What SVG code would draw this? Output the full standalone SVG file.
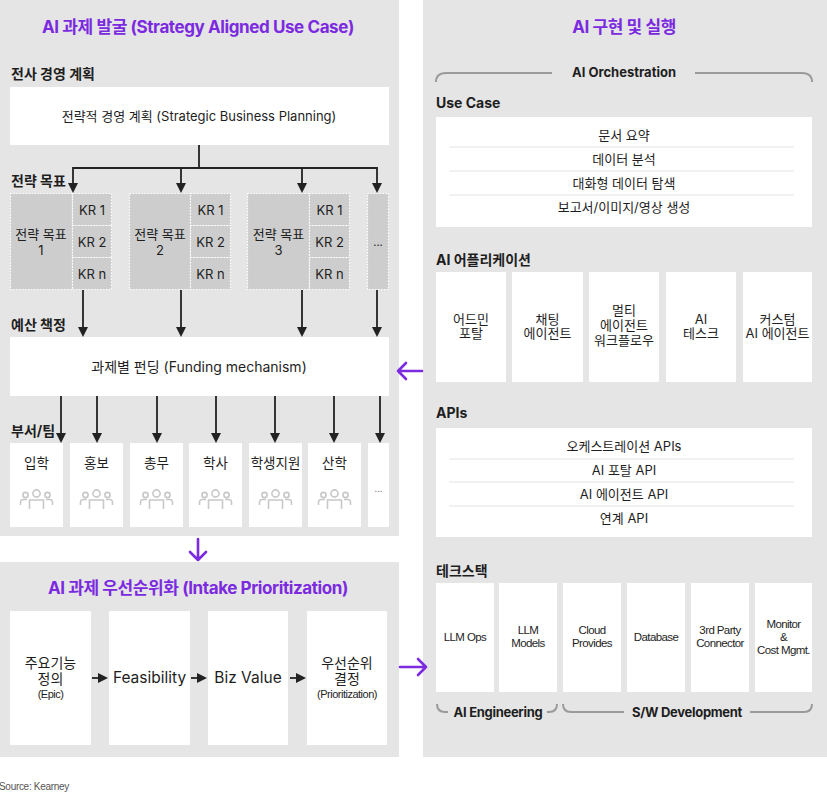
<svg xmlns="http://www.w3.org/2000/svg" xmlns:xlink="http://www.w3.org/1999/xlink" width="827" height="798" viewBox="0 0 827 798">
<style>
.panel{fill:#e5e5e5}
.box{fill:#fff}
.sg{fill:#cdcdcd;stroke:#fff;stroke-width:1.2;stroke-dasharray:1.6 1.4}
.t{font-family:Inter,"Noto Sans CJK KR",sans-serif;fill:#1e1e1e;font-size:13px}
.c{text-anchor:middle}
.h{font-weight:bold;font-size:14px}
.ttl{font-weight:bold;font-size:17px;fill:#7b2ae0;letter-spacing:-0.4px}
.lg{font-size:14px}
.sm{font-family:"Liberation Sans",Arial,sans-serif;font-size:11px;letter-spacing:-0.5px;fill:#1e1e1e}
.ts{font-family:"Liberation Sans",Arial,sans-serif;font-size:11.5px;letter-spacing:-0.6px;fill:#1e1e1e;text-anchor:middle}
.con{stroke:#222;stroke-width:1.8;fill:none}
.pur{stroke:#7b2ae0;stroke-width:2.6;fill:none;stroke-linecap:round;stroke-linejoin:round}
.sep{stroke:#e3e3e3;stroke-width:1}
.brk{stroke:#9a9a9a;stroke-width:2;fill:none}
</style>
<defs>
<marker id="ah" markerWidth="10" markerHeight="10" refX="1" refY="5" orient="auto" markerUnits="userSpaceOnUse"><path d="M0,0 L10,5 L0,10 z" fill="#222"/></marker>
<g id="ppl" fill="none" stroke="#c8c8c8" stroke-width="1.6">
<circle cx="0" cy="-6.5" r="3.6"/>
<circle cx="-11" cy="-5" r="2.6"/>
<circle cx="11" cy="-5" r="2.6"/>
<path d="M-7 9 V0 H7 V9"/>
<path d="M-16 5 V2.5 Q-16 -0.5 -13 -0.5 H-9.5"/>
<path d="M16 5 V2.5 Q16 -0.5 13 -0.5 H9.5"/>
</g>
</defs>
<rect width="827" height="798" fill="#fff"/>
<!-- panels -->
<rect class="panel" x="0" y="0" width="399" height="536"/>
<rect class="panel" x="0" y="562" width="399" height="195"/>
<rect class="panel" x="423" y="0" width="404" height="757"/>

<text class="t ttl c" x="198" y="33">AI 과제 발굴 (Strategy Aligned Use Case)</text>
<text class="t h" x="11" y="79">전사 경영 계획</text>
<text class="t h" x="11" y="186">전략 목표</text>
<text class="t h" x="11" y="330">예산 책정</text>
<text class="t h" x="11" y="436">부서/팀</text>

<g id="planning">
<rect class="box" x="10" y="87" width="379" height="58"/>
<text class="t c" x="199" y="121">전략적 경영 계획 (Strategic Business Planning)</text>
</g>

<g id="goal1">
<rect class="sg" x="10.5" y="193.5" width="62" height="96"/>
<rect class="sg" x="72.5" y="193.5" width="39" height="32"/>
<rect class="sg" x="72.5" y="225.5" width="39" height="32"/>
<rect class="sg" x="72.5" y="257.5" width="39" height="32"/>
<text class="t c" x="41" y="239">전략 목표</text>
<text class="t c" x="41" y="255">1</text>
<text class="t c" x="92" y="215">KR 1</text>
<text class="t c" x="92" y="247">KR 2</text>
<text class="t c" x="92" y="279">KR n</text>
</g>
<g id="goal2">
<rect class="sg" x="129.5" y="193.5" width="61" height="96"/>
<rect class="sg" x="190.5" y="193.5" width="40" height="32"/>
<rect class="sg" x="190.5" y="225.5" width="40" height="32"/>
<rect class="sg" x="190.5" y="257.5" width="40" height="32"/>
<text class="t c" x="160" y="239">전략 목표</text>
<text class="t c" x="160" y="255">2</text>
<text class="t c" x="210.5" y="215">KR 1</text>
<text class="t c" x="210.5" y="247">KR 2</text>
<text class="t c" x="210.5" y="279">KR n</text>
</g>
<g id="goal3">
<rect class="sg" x="247.5" y="193.5" width="62" height="96"/>
<rect class="sg" x="309.5" y="193.5" width="40" height="32"/>
<rect class="sg" x="309.5" y="225.5" width="40" height="32"/>
<rect class="sg" x="309.5" y="257.5" width="40" height="32"/>
<text class="t c" x="278.5" y="239">전략 목표</text>
<text class="t c" x="278.5" y="255">3</text>
<text class="t c" x="329.5" y="215">KR 1</text>
<text class="t c" x="329.5" y="247">KR 2</text>
<text class="t c" x="329.5" y="279">KR n</text>
</g>
<g id="goal4">
<rect class="sg" x="367.5" y="193.5" width="21" height="96"/>
<text class="t c" x="378" y="246" style="font-size:11px">...</text>
</g>

<g id="funding">
<rect class="box" x="10" y="337" width="379" height="59"/>
<text class="t c" x="199" y="372" style="font-size:14px">과제별 펀딩 (Funding mechanism)</text>
</g>

<g id="dept1"><rect class="box" x="10" y="443" width="53" height="84"/><text class="t c" x="36.5" y="468" style="font-size:13.5px">입학</text><use href="#ppl" x="36.5" y="500"/></g>
<g id="dept2"><rect class="box" x="70" y="443" width="53" height="84"/><text class="t c" x="96.5" y="468" style="font-size:13.5px">홍보</text><use href="#ppl" x="96.5" y="500"/></g>
<g id="dept3"><rect class="box" x="130" y="443" width="53" height="84"/><text class="t c" x="156.5" y="468" style="font-size:13.5px">총무</text><use href="#ppl" x="156.5" y="500"/></g>
<g id="dept4"><rect class="box" x="189" y="443" width="53" height="84"/><text class="t c" x="215.5" y="468" style="font-size:13.5px">학사</text><use href="#ppl" x="215.5" y="500"/></g>
<g id="dept5"><rect class="box" x="249" y="443" width="53" height="84"/><text class="t c" x="275.5" y="468" style="font-size:13.5px">학생지원</text><use href="#ppl" x="275.5" y="500"/></g>
<g id="dept6"><rect class="box" x="308" y="443" width="53" height="84"/><text class="t c" x="334.5" y="468" style="font-size:13.5px">산학</text><use href="#ppl" x="334.5" y="500"/></g>
<g id="dept7"><rect class="box" x="368" y="443" width="21" height="84"/><text class="t c" x="378.5" y="492" style="font-size:9px;fill:#888">...</text></g>

<!-- bottom-left panel -->
<text class="t ttl c" x="198" y="594">AI 과제 우선순위화 (Intake Prioritization)</text>
<g id="p1"><rect class="box" x="10" y="611" width="81" height="134"/>
<text class="t c lg" x="50.5" y="668">주요기능</text><text class="t c lg" x="50.5" y="683.5">정의</text><text class="sm" x="50.5" y="698" text-anchor="middle">(Epic)</text></g>
<g id="p2"><rect class="box" x="109" y="611" width="81" height="134"/><text class="t c" x="149.5" y="683" style="font-size:15.5px">Feasibility</text></g>
<g id="p3"><rect class="box" x="208" y="611" width="80" height="134"/><text class="t c" x="248" y="683" style="font-size:15.5px">Biz Value</text></g>
<g id="p4"><rect class="box" x="307" y="611" width="80" height="134"/>
<text class="t c lg" x="347" y="668">우선순위</text><text class="t c lg" x="347" y="683.5">결정</text><text class="sm" x="347" y="698" text-anchor="middle">(Prioritization)</text></g>

<text x="-1" y="790" style="font-family:'Liberation Sans',Arial,sans-serif;font-size:10px;fill:#555;letter-spacing:-0.3px">Source: Kearney</text>

<!-- right panel -->
<text class="t ttl c" x="624" y="33">AI 구현 및 실행</text>
<g id="orch">
<path class="brk" d="M436 82 Q436 73 446 73 H552"/>
<path class="brk" d="M695 73 H802 Q812 73 812 82"/>
<text class="t c" x="624" y="77" style="font-weight:bold">AI Orchestration</text>
</g>
<text class="t h" x="436" y="108">Use Case</text>
<g id="usecase">
<rect class="box" x="436" y="117" width="376" height="110"/>
<line class="sep" x1="449" y1="147" x2="794" y2="147"/>
<line class="sep" x1="449" y1="171" x2="794" y2="171"/>
<line class="sep" x1="449" y1="195" x2="794" y2="195"/>
<text class="t c" x="624" y="140">문서 요약</text>
<text class="t c" x="624" y="164">데이터 분석</text>
<text class="t c" x="624" y="188">대화형 데이터 탐색</text>
<text class="t c" x="624" y="212">보고서/이미지/영상 생성</text>
</g>
<text class="t h" x="436" y="265">AI 어플리케이션</text>
<g id="app1"><rect class="box" x="436" y="272" width="70" height="110"/><text class="t c" x="471" y="323.5">어드민</text><text class="t c" x="471" y="338">포탈</text></g>
<g id="app2"><rect class="box" x="512" y="272" width="71" height="110"/><text class="t c" x="547.5" y="323.5">채팅</text><text class="t c" x="547.5" y="338">에이전트</text></g>
<g id="app3"><rect class="box" x="589" y="272" width="70" height="110"/><text class="t c" x="624" y="315">멀티</text><text class="t c" x="624" y="330">에이전트</text><text class="t c" x="624" y="345">워크플로우</text></g>
<g id="app4"><rect class="box" x="666" y="272" width="70" height="110"/><text class="t c" x="701" y="323.5">AI</text><text class="t c" x="701" y="338">테스크</text></g>
<g id="app5"><rect class="box" x="743" y="272" width="69" height="110"/><text class="t c" x="777.5" y="323.5">커스텀</text><text class="t c" x="777.5" y="338">AI 에이전트</text></g>

<text class="t h" x="436" y="418">APIs</text>
<g id="apis">
<rect class="box" x="436" y="428" width="376" height="109"/>
<line class="sep" x1="449" y1="459" x2="794" y2="459"/>
<line class="sep" x1="449" y1="482" x2="794" y2="482"/>
<line class="sep" x1="449" y1="506" x2="794" y2="506"/>
<text class="t c" x="624" y="450.5">오케스트레이션 APIs</text>
<text class="t c" x="624" y="474.5">AI 포탈 API</text>
<text class="t c" x="624" y="498.5">AI 에이전트 API</text>
<text class="t c" x="624" y="522.5">연계 API</text>
</g>

<text class="t h" x="436" y="576">테크스택</text>
<g id="ts1"><rect class="box" x="436" y="583" width="58" height="109"/><text class="ts" x="465" y="641">LLM Ops</text></g>
<g id="ts2"><rect class="box" x="499" y="583" width="58" height="109"/><text class="ts" x="528" y="634">LLM</text><text class="ts" x="528" y="647">Models</text></g>
<g id="ts3"><rect class="box" x="563" y="583" width="58" height="109"/><text class="ts" x="592" y="634">Cloud</text><text class="ts" x="592" y="647">Provides</text></g>
<g id="ts4"><rect class="box" x="627" y="583" width="58" height="109"/><text class="ts" x="656" y="641">Database</text></g>
<g id="ts5"><rect class="box" x="691" y="583" width="58" height="109"/><text class="ts" x="720" y="634">3rd Party</text><text class="ts" x="720" y="647">Connector</text></g>
<g id="ts6"><rect class="box" x="755" y="583" width="57" height="109"/><text class="ts" x="783.5" y="628">Monitor</text><text class="ts" x="783.5" y="641">&amp;</text><text class="ts" x="783.5" y="654">Cost Mgmt.</text></g>

<g id="aieng">
<path class="brk" d="M437 704 Q437 712 445 712 H448"/>
<path class="brk" d="M547 712 H549 Q557 712 557 704"/>
<text class="t c" x="498" y="717" style="font-weight:bold;letter-spacing:-0.3px">AI Engineering</text>
</g>
<g id="swdev">
<path class="brk" d="M563 704 Q563 712 571 712 H624"/>
<path class="brk" d="M750 712 H804 Q812 712 812 704"/>
<text class="t c" x="687" y="717" style="font-weight:bold;letter-spacing:-0.3px">S/W Development</text>
</g>

<!-- connectors -->
<g id="connectors">
<path class="con" d="M199 145 V168 M73 168 H377"/>
<line class="con" x1="73" y1="167" x2="73" y2="184" marker-end="url(#ah)"/>
<line class="con" x1="181" y1="168" x2="181" y2="184" marker-end="url(#ah)"/>
<line class="con" x1="302" y1="168" x2="302" y2="184" marker-end="url(#ah)"/>
<line class="con" x1="377" y1="167" x2="377" y2="184" marker-end="url(#ah)"/>

<line class="con" x1="83" y1="290" x2="83" y2="328" marker-end="url(#ah)"/>
<line class="con" x1="181" y1="290" x2="181" y2="328" marker-end="url(#ah)"/>
<line class="con" x1="302" y1="290" x2="302" y2="328" marker-end="url(#ah)"/>
<line class="con" x1="377" y1="290" x2="377" y2="328" marker-end="url(#ah)"/>

<line class="con" x1="61" y1="396" x2="61" y2="434" marker-end="url(#ah)"/>
<line class="con" x1="97" y1="396" x2="97" y2="434" marker-end="url(#ah)"/>
<line class="con" x1="157" y1="396" x2="157" y2="434" marker-end="url(#ah)"/>
<line class="con" x1="216" y1="396" x2="216" y2="434" marker-end="url(#ah)"/>
<line class="con" x1="275" y1="396" x2="275" y2="434" marker-end="url(#ah)"/>
<line class="con" x1="334" y1="396" x2="334" y2="434" marker-end="url(#ah)"/>
<line class="con" x1="380" y1="396" x2="380" y2="434" marker-end="url(#ah)"/>

<line class="con" x1="92" y1="678" x2="99" y2="678" marker-end="url(#ah)"/>
<line class="con" x1="191" y1="678" x2="198" y2="678" marker-end="url(#ah)"/>
<line class="con" x1="290" y1="678" x2="297" y2="678" marker-end="url(#ah)"/>

<path class="pur" d="M198 539 V560 M190 552 L198 560 L206 552"/>
<path class="pur" d="M422 371 H398 M406 363 L398 371 L406 379"/>
<path class="pur" d="M400 667 H426 M418 659 L426 667 L418 675"/>
</g>
</svg>
